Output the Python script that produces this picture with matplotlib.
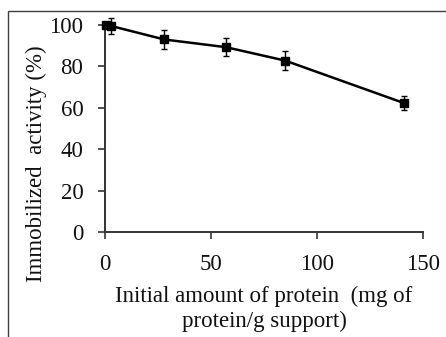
import numpy as np
import matplotlib
matplotlib.use("Agg")
import matplotlib.pyplot as plt
from matplotlib.patches import Rectangle

# -----------------------------
# Data
# -----------------------------
protein = [0.5, 3, 28, 57, 85, 141]
activity = [100, 99.5, 93, 89.3, 82.8, 62.3]
error = [1.0, 4.0, 4.4, 4.4, 4.4, 3.2]

x_ticks = [0, 50, 100, 150]
y_ticks = [0, 20, 40, 60, 80, 100]

plt.rcParams["font.family"] = ["Liberation Serif", "DejaVu Serif"]
FS = 16.5

# -----------------------------
# Plot
# -----------------------------
fig = plt.figure(figsize=(4.46, 3.37), dpi=100)
ax = fig.add_axes([0.2354, 0.3116, 0.713, 0.6142])

ax.errorbar(protein, activity, yerr=error, color="black", lw=1.8,
            marker="s", markersize=5.5, capsize=2.5, elinewidth=1.0,
            capthick=1.0, clip_on=False, zorder=3)

ax.set_xlim(0, 150)
ax.set_ylim(0, 100)
ax.set_xticks(x_ticks)
ax.set_yticks(y_ticks)
ax.tick_params(direction="out", length=5, width=1.2, color="#333333",
               labelsize=FS, labelcolor="#111111")
ax.tick_params(axis="y", pad=10.5)
ax.tick_params(axis="x", pad=10.5)

for side in ["top", "right"]:
    ax.spines[side].set_visible(False)
for side in ["left", "bottom"]:
    ax.spines[side].set_linewidth(1.4)
    ax.spines[side].set_color("#333333")

ax.set_ylabel("Immobilized  activity (%)", fontsize=FS, labelpad=2,
              color="#111111")
ax.yaxis.set_label_coords(-0.183, 0.33)
ax.set_xlabel("Initial amount of protein  (mg of\nprotein/g support)",
              fontsize=FS, labelpad=8, linespacing=1.25, color="#111111")

# frame around the chart area
fig.patches.append(Rectangle((8 / 446, -0.1), 1.2, 1 - 11 / 337 + 0.1,
                             transform=fig.transFigure, fill=False,
                             edgecolor="#404040", lw=1.0, clip_on=False))

fig.savefig("out.png", dpi=100)
